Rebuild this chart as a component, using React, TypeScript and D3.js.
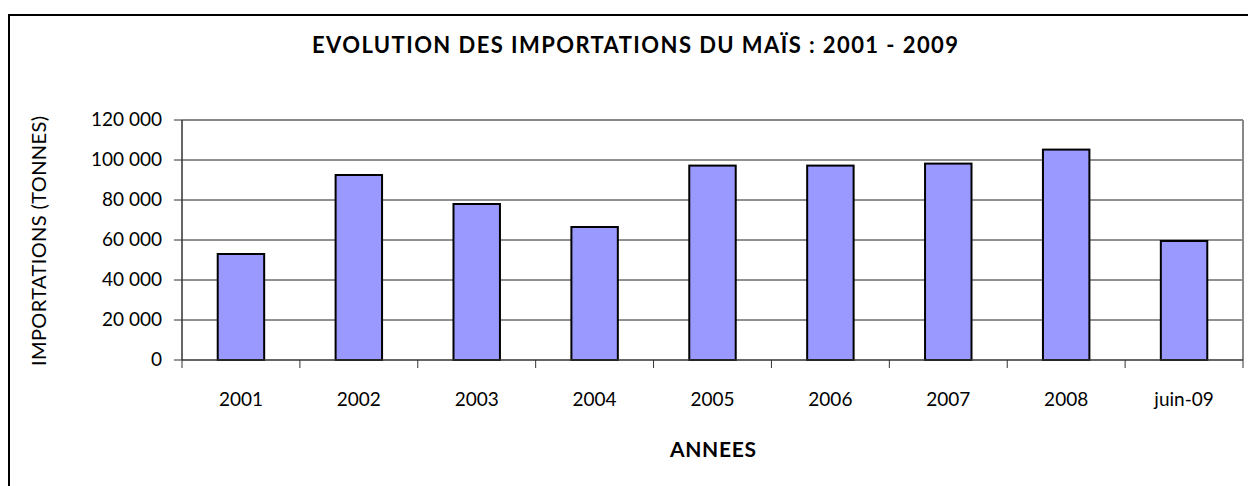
import React from "react";
import * as d3 from "d3";

const categories = ["2001", "2002", "2003", "2004", "2005", "2006", "2007", "2008", "juin-09"];
const values = [53000, 92500, 78000, 66500, 97200, 97200, 98200, 105200, 59500];
const yTicks = [0, 20000, 40000, 60000, 80000, 100000, 120000];
const title = "EVOLUTION DES IMPORTATIONS DU MAÏS : 2001 - 2009";
const xTitle = "ANNEES";
const yTitle = "IMPORTATIONS (TONNES)";

const W = 1248, H = 486;
const plot = { left: 182, right: 1243, top: 120, bottom: 360 };
const font = "Lato, 'Open Sans', sans-serif";

export default function App() {
  const x = d3.scaleBand<string>().domain(categories).range([plot.left, plot.right]).padding(0);
  const y = d3.scaleLinear().domain([0, 120000]).range([plot.bottom, plot.top]);
  const bw = x.bandwidth() * 0.394;
  const fmt = (v: number) => d3.format(",")(v).replace(/,/g, " ");
  const edges = categories.map((c) => x(c)!).concat([plot.right]);
  return (
    <svg width={W} height={H} style={{ position: "absolute", left: 0, top: 0, background: "#fff" }}>
      <rect x={9} y={15} width={W + 10} height={H + 10} fill="#fff" stroke="#000" strokeWidth={2} />
      <text
        x={635}
        y={53}
        textAnchor="middle"
        fontFamily={font}
        fontWeight="bold"
        fontSize={22}
        textLength={646}
        lengthAdjust="spacing"
        fill="#000"
      >
        {title}
      </text>
      {yTicks.map((t) => (
        <g key={t}>
          {t > 0 && t < 120000 && (
            <line x1={plot.left} x2={plot.right} y1={y(t)} y2={y(t)} stroke="#222" strokeWidth={1} />
          )}
          <line x1={174} x2={plot.left} y1={y(t)} y2={y(t)} stroke="#333" strokeWidth={1} />
          <text x={162} y={y(t) + 6} textAnchor="end" fontFamily={font} fontSize={19} fill="#000">
            {fmt(t)}
          </text>
        </g>
      ))}
      <line x1={plot.left} x2={plot.right} y1={plot.top} y2={plot.top} stroke="#888" strokeWidth={2} />
      <line x1={plot.right} x2={plot.right} y1={plot.top} y2={plot.bottom} stroke="#888" strokeWidth={2} />
      {categories.map((c, i) => (
        <rect
          key={c}
          x={x(c)! + (x.bandwidth() - bw) / 2}
          y={y(values[i])}
          width={bw}
          height={plot.bottom - y(values[i])}
          fill="#9999FF"
          stroke="#000"
          strokeWidth={2}
        />
      ))}
      <line x1={plot.left} x2={plot.left} y1={plot.top} y2={plot.bottom} stroke="#333" strokeWidth={1.5} />
      <line x1={plot.left} x2={plot.right} y1={plot.bottom} y2={plot.bottom} stroke="#333" strokeWidth={1.5} />
      {edges.map((e, i) => (
        <line key={i} x1={e} x2={e} y1={plot.bottom} y2={plot.bottom + 8} stroke="#333" strokeWidth={1} />
      ))}
      {categories.map((c) => (
        <text
          key={c}
          x={x(c)! + x.bandwidth() / 2}
          y={406}
          textAnchor="middle"
          fontFamily={font}
          fontSize={19}
          fill="#000"
        >
          {c}
        </text>
      ))}
      <text
        x={713}
        y={457}
        textAnchor="middle"
        fontFamily={font}
        fontWeight="bold"
        fontSize={21}
        textLength={86}
        lengthAdjust="spacing"
        fill="#000"
      >
        {xTitle}
      </text>
      <text
        transform={`translate(46,241) rotate(-90)`}
        textAnchor="middle"
        fontFamily={font}
        fontSize={20}
        textLength={250}
        lengthAdjust="spacing"
        fill="#000"
      >
        {yTitle}
      </text>
    </svg>
  );
}
